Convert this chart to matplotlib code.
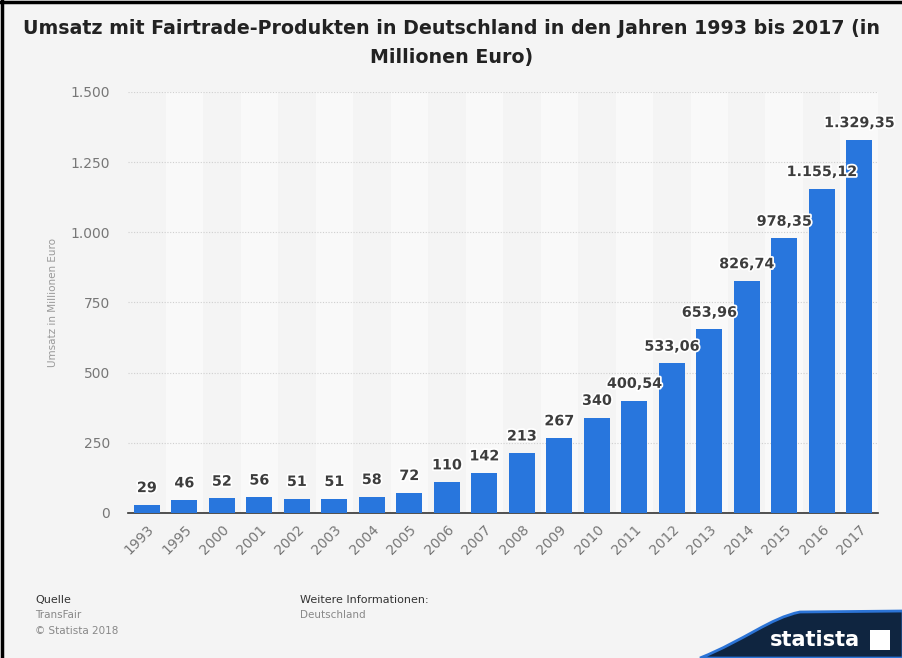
import matplotlib.pyplot as plt
import matplotlib.patheffects as pe
from matplotlib.patches import PathPatch, Rectangle
from matplotlib.path import Path
import numpy as np

years = ['1993', '1995', '2000', '2001', '2002', '2003', '2004', '2005', '2006', '2007',
         '2008', '2009', '2010', '2011', '2012', '2013', '2014', '2015', '2016', '2017']
umsatz = [29, 46, 52, 56, 51, 51, 58, 72, 110, 142,
          213, 267, 340, 400.54, 533.06, 653.96, 826.74, 978.35, 1155.12, 1329.35]
labels = ['29', '46', '52', '56', '51', '51', '58', '72', '110', '142',
          '213', '267', '340', '400,54', '533,06', '653,96', '826,74', '978,35', '1.155,12', '1.329,35']
yticks = [0, 250, 500, 750, 1000, 1250, 1500]
ytick_labels = ['0', '250', '500', '750', '1.000', '1.250', '1.500']

bg = '#f4f4f4'
fig = plt.figure(figsize=(9.03, 6.58), dpi=100, facecolor=bg)
ax = fig.add_axes([0.1418, 0.2204, 0.8305, 0.6398])
ax.set_facecolor(bg)

x = np.arange(len(years))
# alternating lighter column bands
for i in x:
    if i % 2 == 1:
        ax.axvspan(i - 0.5, i + 0.5, color='#f9f9f9', zorder=0, lw=0)

ax.set_ylim(0, 1500)
ax.set_xlim(-0.5, len(years) - 0.5)
ax.set_yticks(yticks)
ax.set_yticklabels(ytick_labels)
ax.yaxis.grid(True, ls=(0, (1, 1.5)), color='#cfcfcf', lw=0.8)
ax.set_axisbelow(True)

ax.bar(x, umsatz, width=0.7, color='#2876dd', zorder=3)
for xi, v, lab in zip(x, umsatz, labels):
    ax.annotate(lab, (xi, v), xytext=(0, 7), textcoords='offset points', ha='center', va='bottom',
                fontsize=10.3, fontweight='bold', color='#3d3d3d', zorder=5,
                path_effects=[pe.withStroke(linewidth=2.5, foreground='white')])

ax.set_xticks(x)
ax.set_xticklabels(years, rotation=45, ha='right', rotation_mode='anchor')
ax.tick_params(axis='both', length=0, labelsize=10, labelcolor='#777777')
ax.tick_params(axis='x', pad=7)
ax.tick_params(axis='y', pad=13)
for s in ['top', 'right', 'left']:
    ax.spines[s].set_visible(False)
ax.spines['bottom'].set_color('#333333')
ax.spines['bottom'].set_linewidth(1.2)
ax.set_ylabel('Umsatz in Millionen Euro', fontsize=7.5, color='#999999', labelpad=9)

fig.text(0.5, 0.957, 'Umsatz mit Fairtrade-Produkten in Deutschland in den Jahren 1993 bis 2017 (in',
         ha='center', va='center', fontsize=13.7, fontweight='bold', color='#222222')
fig.text(0.5, 0.913, 'Millionen Euro)', ha='center', va='center', fontsize=13.7,
         fontweight='bold', color='#222222')

# footer
fig.text(35 / 903, 1 - 600 / 658, 'Quelle', fontsize=8, color='#333333', va='center')
fig.text(35 / 903, 1 - 615 / 658, 'TransFair', fontsize=7.5, color='#888888', va='center')
fig.text(35 / 903, 1 - 631 / 658, '© Statista 2018', fontsize=7.5, color='#888888', va='center')
fig.text(300 / 903, 1 - 600 / 658, 'Weitere Informationen:', fontsize=8, color='#333333', va='center')
fig.text(300 / 903, 1 - 615 / 658, 'Deutschland', fontsize=7.5, color='#888888', va='center')

# statista logo band
def fx(px):
    return px / 903

def fy(py):
    return 1 - py / 658

verts = [(fx(700), fy(658)), (fx(745), fy(640)), (fx(770), fy(618)), (fx(800), fy(612)),
         (fx(903), fy(611)), (fx(903), fy(658)), (fx(700), fy(658))]
codes = [Path.MOVETO, Path.CURVE4, Path.CURVE4, Path.CURVE4, Path.LINETO, Path.LINETO, Path.CLOSEPOLY]
fig.patches.append(PathPatch(Path(verts, codes), transform=fig.transFigure,
                             facecolor='#0f2540', edgecolor='#2c74d6', lw=2))
fig.text(fx(815), fy(640), 'statista', fontsize=15, fontweight='bold', color='white',
         ha='center', va='center')
fig.patches.append(Rectangle((fx(870), fy(650)), fx(20), 20 / 658, transform=fig.transFigure,
                             facecolor='white', lw=0))

# screenshot frame
fig.add_artist(plt.Line2D([0.002, 0.002], [0, 1], transform=fig.transFigure, color='black', lw=2.5))
fig.add_artist(plt.Line2D([0, 1], [0.997, 0.997], transform=fig.transFigure, color='black', lw=2.5))

fig.savefig('out.png', dpi=100, facecolor=bg)
